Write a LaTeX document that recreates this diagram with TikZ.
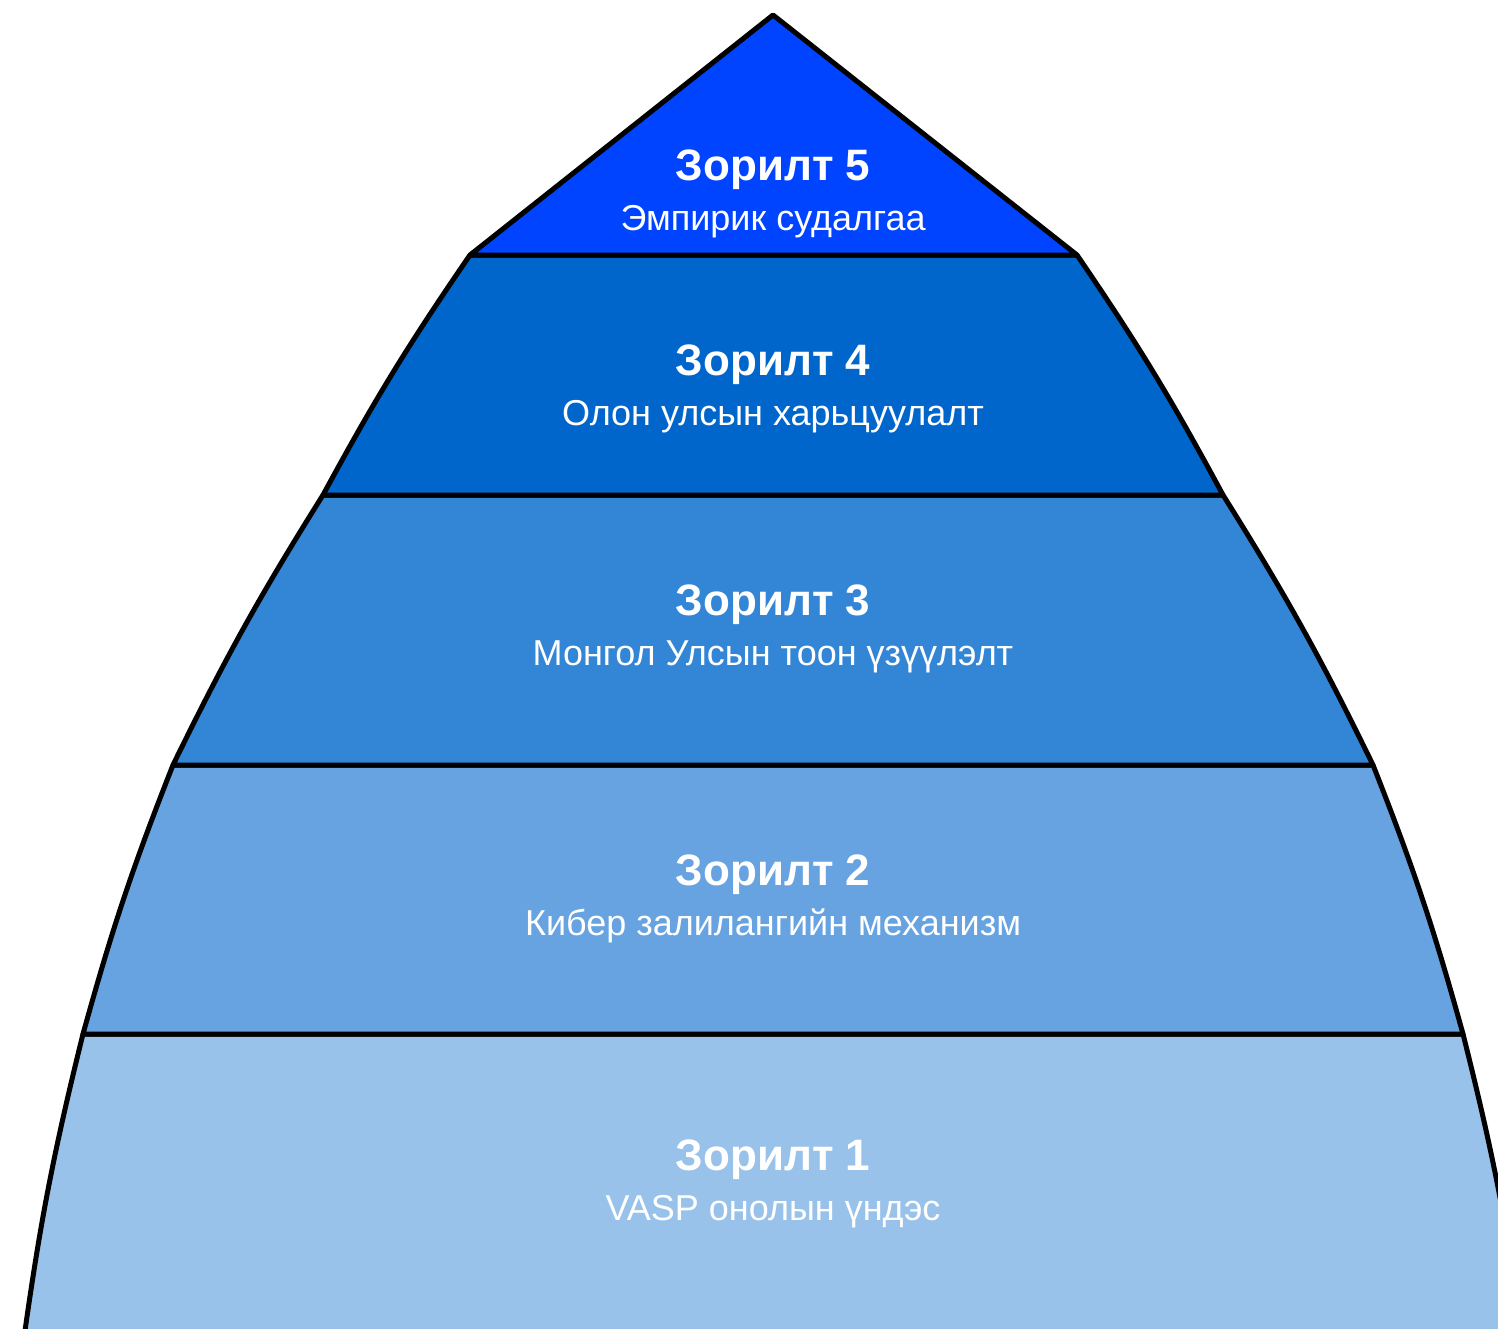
\documentclass[tikz,border=0pt]{standalone}
\usepackage{fontspec}
\setmainfont{Liberation Sans}
\definecolor{goalfive}{HTML}{0044FF}
\definecolor{goalfour}{HTML}{0066CC}
\definecolor{goalthree}{HTML}{3385D6}
\definecolor{goaltwo}{HTML}{66A3E0}
\definecolor{goalone}{HTML}{99C2EB}

\begin{document}
\begin{tikzpicture}[x=1pt, y=-1pt,
    layer/.style={draw=black, line width=5pt, line join=round},
    goaltitle/.style={text=white, anchor=base, font=\fontsize{44}{50}\selectfont\bfseries},
    goalsub/.style={text=white, anchor=base, font=\fontsize{36}{42}\selectfont}]
  \useasboundingbox (0,0) rectangle (1498,1328);
  \clip (0,0) rectangle (1498,1328);
  % corners of the layers
  \coordinate (apex) at (773,15);
  \coordinate (l5) at (470,255);   \coordinate (r5) at (1077,255);
  \coordinate (l4) at (323,495);   \coordinate (r4) at (1223,495);
  \coordinate (l3) at (173,765);   \coordinate (r3) at (1373,765);
  \coordinate (l2) at (83,1034);   \coordinate (r2) at (1463,1034);
  \coordinate (l1) at (23,1345);   \coordinate (r1) at (1524,1345);
  % layers
  \path[layer, fill=goalone]   (l2) to[bend right=3] (l1) -- (r1) to[bend right=3] (r2) -- cycle;
  \path[layer, fill=goaltwo]   (l3) to[bend right=3] (l2) -- (r2) to[bend right=3] (r3) -- cycle;
  \path[layer, fill=goalthree] (l4) to[bend right=3] (l3) -- (r3) to[bend right=3] (r4) -- cycle;
  \path[layer, fill=goalfour]  (l5) to[bend right=3] (l4) -- (r4) to[bend right=3] (r5) -- cycle;
  \path[layer, fill=goalfive]  (apex) -- (l5) -- (r5) -- cycle;
  % texts
  \foreach \i/\y/\sub in {5/180/Эмпирик судалгаа,
                          4/375/Олон улсын харьцуулалт,
                          3/615/Монгол Улсын тоон үзүүлэлт,
                          2/885/Кибер залилангийн механизм,
                          1/1170/VASP онолын үндэс} {
    \node[goaltitle] (t\i) at (773,\y) {Зорилт \i};
    \node[goalsub] (s\i) at (773,\y+50) {\sub};
  }
\end{tikzpicture}
\end{document}
